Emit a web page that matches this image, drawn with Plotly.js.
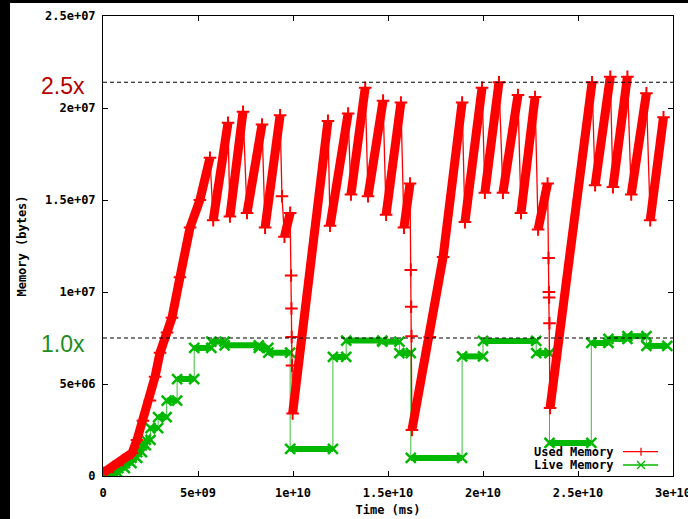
<!DOCTYPE html>
<html>
<head>
<meta charset="utf-8">
<script src="https://cdn.plot.ly/plotly-3.0.1.min.js"></script>
<style>
html,body{margin:0;padding:0;background:#000;overflow:hidden;width:688px;height:519px;}
#plot{position:absolute;left:10px;top:3px;width:678px;height:516px;background:#fff;}
</style>
</head>
<body>
<div id="plot"></div>
<script>
// units: time in 1e9 ms, memory in 1e6 bytes
const T_UNIT = 1e9, M_UNIT = 1e6;

const usedT = [0,0.53,1.05,1.53,1.79,2.1,2.47,2.74,3.0,3.37,3.63,4.05,4.58,5.1,5.63,
  5.8,6.58, 6.68,7.37, 7.58,8.37, 8.53,9.32, 9.42,9.55,9.85,
  9.9,9.92,9.93,9.95,9.98, 11.84, 11.95,12.9, 13.05,13.8, 13.95,14.74, 14.9,15.68,
  15.84,16.16, 16.2,16.22,16.24,16.26, 17.2,17.9,18.9, 19.05,19.95, 20.1,20.84,
  21.05,21.84, 22.0,22.74, 22.9,23.4, 23.45,23.47,23.48,23.5,23.53, 25.74,
  25.9,26.7, 26.84,27.6, 27.8,28.6, 28.8,29.5];
const usedM = [0.16,0.49,0.87,1.25,1.96,3.0,4.1,5.4,6.7,7.8,8.6,10.8,13.5,15.0,17.3,
  13.9,19.2, 14.1,19.8, 14.3,19.1, 13.5,19.6, 15.2,13.0,14.3,
  10.9,9.1,7.55,6.0,3.4, 19.3, 13.6,19.7, 15.3,21.1, 15.2,20.4, 14.2,20.3,
  13.5,15.9, 11.2,9.2,7.6,2.5, 7.55,11.9,20.3, 13.8,21.1, 15.4,21.4,
  15.4,20.7, 14.3,20.6, 13.4,15.9, 11.85,10.0,9.7,8.3,3.7, 21.4,
  15.8,21.7, 15.7,21.7, 15.3,20.8, 13.9,19.5];

const liveT = [0,0.35,0.8,1.15,1.5,1.8,2.05,2.25,2.5,2.9,3.35,3.9,4.8,5.7,6.4,8.2,8.7,
  9.85,12.1,12.8,14.7,15.6,16.2,18.9,20.0,22.8,23.5,25.7,26.6,27.6,28.6];
const liveEnd = 29.7;
const liveM = [0.05,0.16,0.43,0.7,0.98,1.3,1.68,1.96,2.6,3.2,4.1,5.27,6.96,7.3,7.1,6.96,6.7,
  1.47,6.47,7.36,7.3,6.68,0.98,6.5,7.34,6.68,1.8,7.23,7.45,7.6,7.07];

const refLevels = [7.5, 21.4];
const refLabels = ["1.0x", "2.5x"];
const refColors = ["#1e8c1e", "#b40000"];

const xTickVals = [0,5,10,15,20,25,30];
const xTickText = ["0","5e+09","1e+10","1.5e+10","2e+10","2.5e+10","3e+10"];
const yTickVals = [0,5,10,15,20,25];
const yTickText = ["0","5e+06","1e+07","1.5e+07","2e+07","2.5e+07"];

const seriesNames = ["Used Memory", "Live Memory"];

const RED = "#ff0000", GREEN = "#00b800";

// rising parts of used memory (drawn thick)
const riseX = [], riseY = [];
let open = false;
for (let i = 0; i < usedT.length - 1; i++) {
  if (usedM[i+1] > usedM[i]) {
    if (!open) { riseX.push(usedT[i]*T_UNIT); riseY.push(usedM[i]*M_UNIT); open = true; }
    riseX.push(usedT[i+1]*T_UNIT); riseY.push(usedM[i+1]*M_UNIT);
  } else if (open) { riseX.push(null); riseY.push(null); open = false; }
}

// live plateaus
const platX = [], platY = [];
for (let i = 0; i < liveT.length; i++) {
  const t1 = i < liveT.length - 1 ? liveT[i+1] : liveEnd;
  platX.push(liveT[i]*T_UNIT, t1*T_UNIT, null);
  platY.push(liveM[i]*M_UNIT, liveM[i]*M_UNIT, null);
}
const stepX = liveT.concat([liveEnd]).map(v => v*T_UNIT);
const stepY = liveM.concat([liveM[liveM.length-1]]).map(v => v*M_UNIT);

const traces = [
  {x: stepX, y: stepY, type: "scatter", mode: "lines", line: {color: "#3cbf3c", width: 1, shape: "hv"}, hoverinfo: "skip", showlegend: false},
  {x: platX, y: platY, type: "scatter", mode: "lines+markers", name: seriesNames[1],
   line: {color: GREEN, width: 6}, marker: {symbol: "x-thin", size: 10, line: {color: GREEN, width: 2.5}}, hoverinfo: "skip"},
  {x: usedT.map(v => v*T_UNIT), y: usedM.map(v => v*M_UNIT), type: "scatter", mode: "lines+markers", name: seriesNames[0],
   line: {color: RED, width: 1.3}, marker: {symbol: "cross-thin", size: 9, line: {color: RED, width: 2}}, hoverinfo: "skip"},
  {x: riseX, y: riseY, type: "scatter", mode: "lines", line: {color: RED, width: 9}, hoverinfo: "skip", showlegend: false}
];

const monoFont = {family: "DejaVu Sans Mono, monospace", size: 12, color: "#000", weight: "bold"};

const px = 1/570, py = 1/460;
const shapes = refLevels.map(v => ({type: "line", xref: "paper", x0: 0, x1: 1, yref: "y", y0: v*M_UNIT, y1: v*M_UNIT,
  line: {color: "#000", width: 1, dash: "4px,3px"}, layer: "above"}));
const annotations = refLevels.map((v, i) => ({xref: "paper", x: -40*px, xanchor: "center", yref: "y", y: v*M_UNIT,
  yanchor: "middle", yshift: i === 0 ? -6 : -4, text: refLabels[i], showarrow: false,
  font: {family: "Liberation Sans, Arial, sans-serif", size: 23, color: refColors[i]}}));

// legend (gnuplot style: text, then sample on the right)
const legY = [24.3*py, 11*py];
const legCol = [RED, GREEN];
seriesNames.forEach((n, i) => {
  annotations.push({xref: "paper", yref: "paper", x: (615-103)*px, y: legY[i], xanchor: "right", yanchor: "middle",
    text: n, showarrow: false, font: monoFont});
  shapes.push({type: "line", xref: "paper", yref: "paper", x0: (623-103)*px, x1: (658-103)*px, y0: legY[i], y1: legY[i],
    line: {color: legCol[i], width: 1.3}});
});
const mx = (641-103)*px;
shapes.push({type: "line", xref: "paper", yref: "paper", x0: mx, x1: mx, y0: legY[0]-4*py, y1: legY[0]+4*py, line: {color: RED, width: 1.3}});
shapes.push({type: "line", xref: "paper", yref: "paper", x0: mx-4*px, x1: mx+4*px, y0: legY[1]-4*py, y1: legY[1]+4*py, line: {color: GREEN, width: 1.3}});
shapes.push({type: "line", xref: "paper", yref: "paper", x0: mx-4*px, x1: mx+4*px, y0: legY[1]+4*py, y1: legY[1]-4*py, line: {color: GREEN, width: 1.3}});

const axisCommon = {showline: true, linecolor: "#000", linewidth: 1, mirror: "ticks", ticks: "inside", ticklen: 5,
  tickcolor: "#000", tickwidth: 1, showgrid: false, zeroline: false, tickfont: monoFont, automargin: false,
  fixedrange: true, ticklabeloverflow: "allow"};

const layout = {
  width: 678, height: 516,
  margin: {l: 93, r: 15, t: 13, b: 43},
  paper_bgcolor: "#fff", plot_bgcolor: "#fff",
  showlegend: false,
  xaxis: Object.assign({}, axisCommon, {range: [0, 30*T_UNIT], tickmode: "array",
    tickvals: xTickVals.map(v => v*T_UNIT), ticktext: xTickText, ticklabelstandoff: 6,
    title: {text: "Time (ms)", font: monoFont, standoff: 6}}),
  yaxis: Object.assign({}, axisCommon, {range: [0, 25*M_UNIT], tickmode: "array", automargin: "left",
    tickvals: yTickVals.map(v => v*M_UNIT), ticktext: yTickText, ticklabelstandoff: 4,
    title: {text: "Memory (bytes)", font: monoFont, standoff: 15}}),
  shapes: shapes,
  annotations: annotations
};

Plotly.newPlot("plot", traces, layout, {displayModeBar: false, staticPlot: true});
</script>
</body>
</html>
